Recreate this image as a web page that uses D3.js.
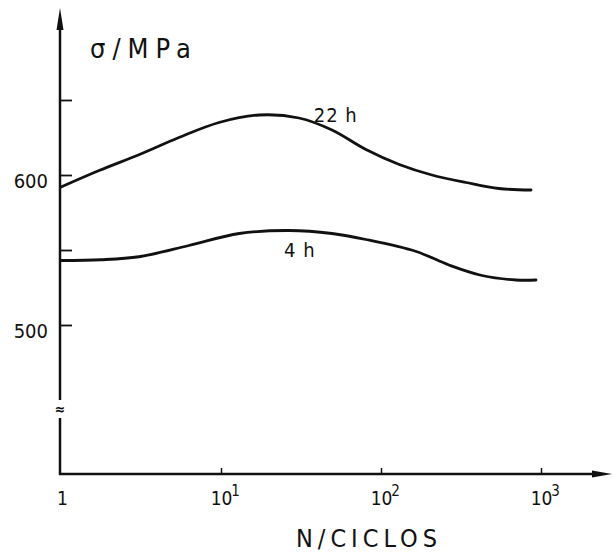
<!DOCTYPE html>
<html lang="es">
<head>
    <meta charset="UTF-8">
    <title>σ / MPa vs N / CICLOS</title>
    <script src="https://cdn.jsdelivr.net/npm/d3@7/dist/d3.min.js"></script>
    <style>
        html, body { margin: 0; padding: 0; background: #fff; }
        text { font-family: 'DejaVu Sans Condensed', 'DejaVu Sans', sans-serif; font-stretch: condensed; fill: #111; }
    </style>
</head>
<body>
    <div class="chart"></div>
</body>
<script>
    // curves (N in cycles, sigma in MPa)
    const cycles22 = [1, 1.73, 3.07, 5.46, 9.72, 17.3, 30.7, 49.4, 80.5, 130, 208, 340, 546, 866]
    const stress22 = [592, 603, 613.5, 625, 635, 640, 638, 630, 617, 607, 600, 595, 591, 590]
    const cycles4 = [1, 1.78, 3.07, 6.3, 13, 26.6, 49.4, 80.5, 166, 266, 428, 698, 930]
    const stress4 = [543, 543.5, 545.5, 553, 561, 563, 561, 557, 549, 540, 533, 530, 530]

    const seriesNames = ['22 h', '4 h']
    const labelCycles = [38, 24.8]
    const labelStress = [635.5, 545.5]

    const xTicks = [1, 10, 100, 1000]
    const xTickBase = ['1', '10', '10', '10']
    const xTickExp = ['', '1', '2', '3']
    const yTicks = [500, 550, 600, 650]
    const yTickLabels = ['500', '', '600', '']

    const width = 613
    const height = 552
    const axisX = 60
    const axisY = 474
    const topY = 8
    const rightX = 612

    const xScale = d3.scaleLog().domain([1, 1000]).range([axisX + 1, 541])
    const yScale = d3.scaleLinear().domain([500, 600]).range([325, 175])

    const svg = d3.select('.chart')
        .append('svg')
        .attr('width', width)
        .attr('height', height)

    // y axis with break
    const breakTop = 400
    const breakBottom = 418
    svg.append('line')
        .attr('x1', axisX).attr('x2', axisX)
        .attr('y1', topY + 10).attr('y2', breakTop)
        .attr('stroke', '#111').attr('stroke-width', 2.5)
    svg.append('line')
        .attr('x1', axisX).attr('x2', axisX)
        .attr('y1', breakBottom).attr('y2', axisY + 1)
        .attr('stroke', '#111').attr('stroke-width', 2.5)
    svg.append('path')
        .attr('d', `M${axisX},${topY} L${axisX - 3.5},${topY + 22} L${axisX + 3.5},${topY + 22} Z`)
        .attr('fill', '#111')
    svg.append('text')
        .attr('x', axisX)
        .attr('y', (breakTop + breakBottom) / 2 + 5)
        .attr('text-anchor', 'middle')
        .attr('font-size', '14px')
        .attr('font-weight', 'bold')
        .text('≈')

    const yAxis = d3.axisLeft(yScale)
        .tickValues(yTicks)
        .tickSizeInner(-12)
        .tickSizeOuter(0)
        .tickPadding(12)
        .tickFormat((d, i) => yTickLabels[i])
    const gY = svg.append('g')
        .attr('transform', `translate(${axisX}, 0)`)
        .call(yAxis)
    gY.select('.domain').remove()
    gY.selectAll('.tick line').attr('stroke', '#111').attr('stroke-width', 1.8)
    gY.selectAll('.tick text')
        .attr('font-size', '20px')
        .attr('dy', '0.6em')

    // x axis
    svg.append('line')
        .attr('x1', axisX - 1).attr('x2', rightX - 16)
        .attr('y1', axisY).attr('y2', axisY)
        .attr('stroke', '#111').attr('stroke-width', 2.5)
    svg.append('path')
        .attr('d', `M${rightX},${axisY} L${rightX - 20},${axisY - 3.5} L${rightX - 20},${axisY + 3.5} Z`)
        .attr('fill', '#111')

    const xAxis = d3.axisBottom(xScale)
        .tickValues(xTicks)
        .tickSizeInner(-6)
        .tickSizeOuter(0)
        .tickFormat('')
    const gX = svg.append('g')
        .attr('transform', `translate(0, ${axisY})`)
        .call(xAxis)
    gX.select('.domain').remove()
    gX.selectAll('.tick line')
        .attr('stroke', '#111').attr('stroke-width', 1.5)
        .attr('display', d => d === 1 ? 'none' : null)
    gX.selectAll('.tick text').remove()
    gX.selectAll('.tick').each(function (d, i) {
        const g = d3.select(this)
        g.append('text')
            .attr('x', i === 0 ? 1 : 0)
            .attr('y', 31)
            .attr('text-anchor', 'middle')
            .attr('font-size', '19px')
            .text(xTickBase[i])
        if (xTickExp[i]) {
            g.append('text')
                .attr('x', 14)
                .attr('y', 22)
                .attr('font-size', '15px')
                .text(xTickExp[i])
        }
    })

    // axis titles
    svg.append('text')
        .attr('x', 90)
        .attr('y', 58)
        .attr('font-size', '27px')
        .attr('letter-spacing', '7px')
        .text('σ/MPa')
    svg.append('text')
        .attr('x', 296)
        .attr('y', 547)
        .attr('font-size', '25px')
        .attr('letter-spacing', '5px')
        .text('N/CICLOS')

    // curves
    const curves = [
        cycles22.map((c, i) => [c, stress22[i]]),
        cycles4.map((c, i) => [c, stress4[i]])
    ]
    const line = d3.line()
        .x(d => xScale(d[0]))
        .y(d => yScale(d[1]))
        .curve(d3.curveCatmullRom.alpha(0.5))

    svg.selectAll('.curve')
        .data(curves)
        .enter()
        .append('path')
        .attr('class', 'curve')
        .attr('fill', 'none')
        .attr('stroke', '#111')
        .attr('stroke-width', 2.8)
        .attr('stroke-linecap', 'round')
        .attr('d', d => line(d))

    svg.selectAll('.curve-label')
        .data(seriesNames)
        .enter()
        .append('text')
        .attr('class', 'curve-label')
        .attr('x', (d, i) => xScale(labelCycles[i]))
        .attr('y', (d, i) => yScale(labelStress[i]))
        .attr('font-size', '20px')
        .attr('letter-spacing', '1px')
        .text(d => d)
</script>
</html>
